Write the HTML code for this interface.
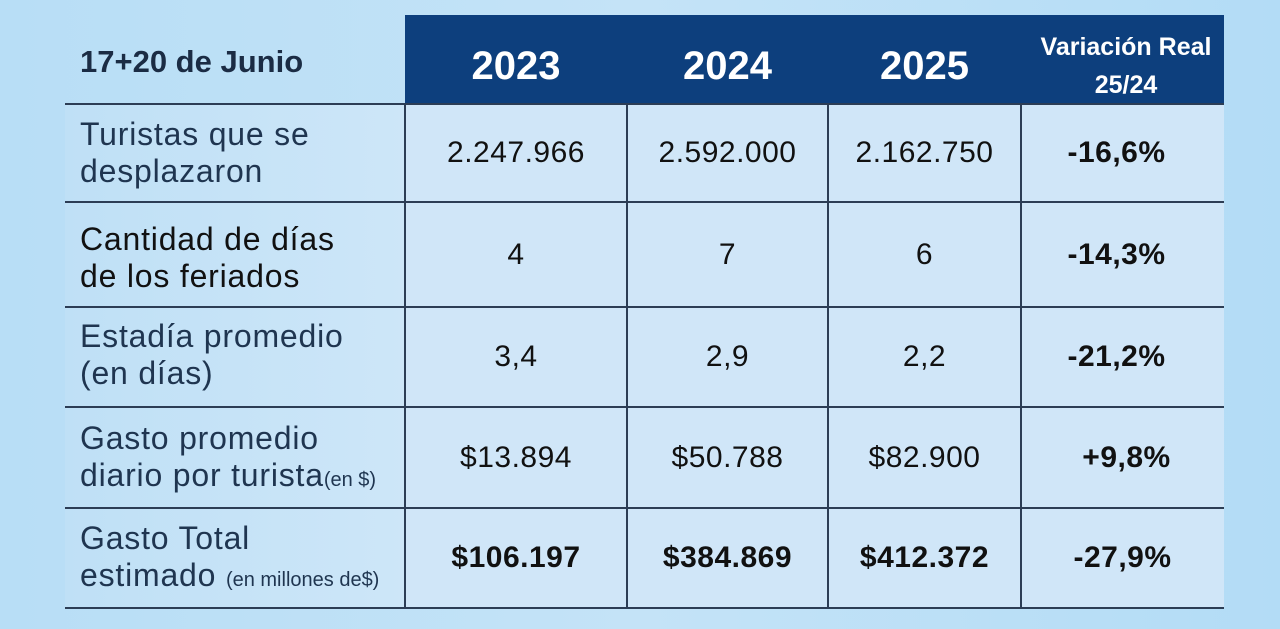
<!DOCTYPE html>
<html><head><meta charset="utf-8"><style>
body{margin:0;width:1280px;height:629px;background:linear-gradient(90deg,#b8def6,#c4e3f7 50%,#b3dcf6);position:relative;overflow:hidden;font-family:"Liberation Sans","DejaVu Sans",sans-serif;color:#1a2a3f}
.hdr{position:absolute;left:405px;top:15px;width:819px;height:89px;background:#0d3f7d}
.cells{position:absolute;left:405px;top:104px;width:819px;height:505px;background:#d0e6f8}
.left{position:absolute;left:65px;top:104px;width:340px;height:505px;background:linear-gradient(90deg,#bfe0f6,#cde6f8)}
.h{position:absolute;height:2px;background:#2c3d55;left:65px;width:1159px}
.v{position:absolute;width:2px;background:#2c3d55;top:104px;height:505px}
.t{position:absolute;display:flex;align-items:center;justify-content:center;text-align:center}
.yr{color:#fff;font-weight:bold;font-size:40px;top:22px;height:89px}
.lab{position:absolute;left:80px;font-size:32px;letter-spacing:0.8px;line-height:37px;color:#1f3550}
.num{font-size:30px;letter-spacing:0.5px;color:#111}
.b{font-weight:bold}
small{font-size:20px;letter-spacing:0}
</style></head><body>
<div class="hdr"></div><div class="left"></div><div class="cells"></div>
<div class="t b" style="left:80px;top:44px;font-size:31px;color:#1b2c44">17+20 de Junio</div>
<div class="t yr" style="left:405px;width:222px">2023</div>
<div class="t yr" style="left:627px;width:201px">2024</div>
<div class="t yr" style="left:828px;width:193px">2025</div>
<div class="t" style="left:1021px;width:210px;top:28px;color:#fff;font-weight:bold;font-size:25px;line-height:38px">Variación Real<br>25/24</div>
<div class="h" style="top:103px"></div><div class="h" style="top:201px"></div><div class="h" style="top:306px"></div><div class="h" style="top:406px"></div><div class="h" style="top:507px"></div><div class="h" style="top:607px"></div>
<div class="v" style="left:404px"></div><div class="v" style="left:626px"></div><div class="v" style="left:827px"></div><div class="v" style="left:1020px"></div>
<div class="lab" style="top:116px">Turistas que se<br>desplazaron</div>
<div class="lab" style="top:221px;color:#111">Cantidad de días<br>de los feriados</div>
<div class="lab" style="top:318px">Estadía promedio<br>(en días)</div>
<div class="lab" style="top:420px">Gasto promedio<br>diario por turista<small>(en $)</small></div>
<div class="lab" style="top:520px">Gasto Total<br>estimado <small>(en millones de$)</small></div>
<div class="t num" style="left:405px;width:222px;top:104px;height:98px">2.247.966</div>
<div class="t num" style="left:627px;width:201px;top:104px;height:98px">2.592.000</div>
<div class="t num" style="left:828px;width:193px;top:104px;height:98px">2.162.750</div>
<div class="t num b" style="left:1015px;width:203px;top:104px;height:98px">-16,6%</div>
<div class="t num" style="left:405px;width:222px;top:202px;height:105px">4</div>
<div class="t num" style="left:627px;width:201px;top:202px;height:105px">7</div>
<div class="t num" style="left:828px;width:193px;top:202px;height:105px">6</div>
<div class="t num b" style="left:1015px;width:203px;top:202px;height:105px">-14,3%</div>
<div class="t num" style="left:405px;width:222px;top:307px;height:100px">3,4</div>
<div class="t num" style="left:627px;width:201px;top:307px;height:100px">2,9</div>
<div class="t num" style="left:828px;width:193px;top:307px;height:100px">2,2</div>
<div class="t num b" style="left:1015px;width:203px;top:307px;height:100px">-21,2%</div>
<div class="t num" style="left:405px;width:222px;top:407px;height:101px">$13.894</div>
<div class="t num" style="left:627px;width:201px;top:407px;height:101px">$50.788</div>
<div class="t num" style="left:828px;width:193px;top:407px;height:101px">$82.900</div>
<div class="t num b" style="left:1025px;width:203px;top:407px;height:101px">+9,8%</div>
<div class="t num b" style="left:405px;width:222px;top:508px;height:100px">$106.197</div>
<div class="t num b" style="left:627px;width:201px;top:508px;height:100px">$384.869</div>
<div class="t num b" style="left:828px;width:193px;top:508px;height:100px">$412.372</div>
<div class="t num b" style="left:1021px;width:203px;top:508px;height:100px">-27,9%</div>
</body></html>
